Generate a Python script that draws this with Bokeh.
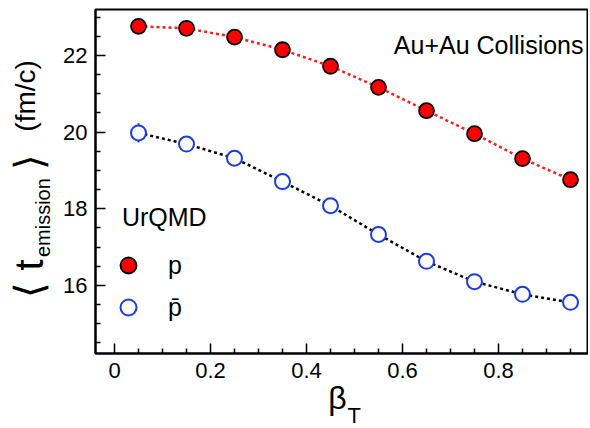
from bokeh.plotting import figure
from bokeh.models import (ColumnDataSource, Label, Legend, LegendItem, FixedTicker,
                          CustomJSTickFormatter, LinearAxis)
from bokeh.embed import file_html
from bokeh.resources import INLINE

# ---- data ----
beta_t = [0.05, 0.15, 0.25, 0.35, 0.45, 0.55, 0.65, 0.75, 0.85, 0.95]
t_proton = [22.76, 22.71, 22.48, 22.15, 21.72, 21.17, 20.56, 19.96, 19.31, 18.76]
t_antiproton = [19.98, 19.69, 19.32, 18.71, 18.08, 17.33, 16.63, 16.10, 15.77, 15.56]
err_antiproton = [0.25, 0.0, 0.0, 0.0, 0.0, 0.0, 0.0, 0.0, 0.0, 0.0]
x_major_ticks = [0, 0.2, 0.4, 0.6, 0.8]
x_minor_ticks = [0.05, 0.1, 0.15, 0.25, 0.3, 0.35, 0.45, 0.5, 0.55, 0.65, 0.7, 0.75, 0.85, 0.9, 0.95]
y_major_ticks = [16, 18, 20, 22]
y_minor_ticks = [14.5, 15, 15.5, 16.5, 17, 17.5, 18.5, 19, 19.5, 20.5, 21, 21.5, 22.5, 23]

FONT = "Liberation Sans"
NBSP = "\u00a0"

X0, X1 = -0.0396, 0.9875
Y0, Y1 = 14.226, 23.2
FL, FR, FT, FB = 95, 588, 9, 353   # frame edges in page pixels

p = figure(width=588, height=428, x_range=(X0, X1), y_range=(Y0, Y1),
           output_backend="svg", toolbar_location=None,
           min_border_left=FL, min_border_right=0, min_border_top=FT,
           min_border_bottom=428 - FB)
p.grid.visible = False
p.outline_line_color = "black"
p.outline_line_width = 2
p.background_fill_color = "white"
p.border_fill_color = "white"

for ax in (p.xaxis[0], p.yaxis[0]):
    ax.axis_line_color = "black"
    ax.axis_line_width = 2
    ax.major_tick_in = 10
    ax.major_tick_out = 0
    ax.minor_tick_in = 5
    ax.minor_tick_out = 0
    ax.major_tick_line_width = 1.5
    ax.minor_tick_line_width = 1.5
    ax.major_tick_line_color = "black"
    ax.minor_tick_line_color = "black"
    ax.major_label_text_font = FONT
    ax.major_label_text_font_size = "22px"
    ax.major_label_text_color = "black"

p.xaxis[0].ticker = FixedTicker(ticks=x_major_ticks, minor_ticks=x_minor_ticks)
p.yaxis[0].ticker = FixedTicker(ticks=y_major_ticks, minor_ticks=y_minor_ticks)
p.xaxis[0].formatter = CustomJSTickFormatter(code="return tick === 0 ? '0' : tick.toFixed(1);")
p.xaxis[0].major_label_standoff = 9
p.yaxis[0].major_label_standoff = 8


def dx(px):
    return X0 + (px - FL) * (X1 - X0) / (FR - FL)


def dy(py):
    return Y1 - (py - FT) * (Y1 - Y0) / (FB - FT)


def label_axis(side, text, size, standoff, pad_before=0, pad_after=0, font=FONT):
    """An extra axis that shows only a label (padded with no-break spaces to shift it)."""
    ax = LinearAxis(ticker=FixedTicker(ticks=[]),
                    axis_line_color=None, major_tick_out=0, minor_tick_out=0,
                    major_tick_in=0, minor_tick_in=0, major_label_standoff=0,
                    axis_label=NBSP * pad_before + text + NBSP * pad_after,
                    axis_label_text_font=font,
                    axis_label_text_font_size=size, axis_label_text_font_style="normal",
                    axis_label_text_color="black", axis_label_standoff=standoff)
    p.add_layout(ax, side)
    return ax


# x axis title: beta_T
label_axis("below", "\u03b2", "32px", -1, pad_after=1)
label_axis("above", "T", "22px", -418, pad_before=4)

# y axis title: < t_emission > (fm/c)
label_axis("left", "emission", "20px", 7, pad_after=13)
label_axis("left", "\u27e8" + NBSP + "t" + NBSP * 8 + "\u27e9", "40px", -22, pad_after=8)
label_axis("left", "(fm/c)", "28px", -37, pad_before=22)

src_p = ColumnDataSource(dict(x=beta_t, y=t_proton))
lo = [v - e for v, e in zip(t_antiproton, err_antiproton)]
hi = [v + e for v, e in zip(t_antiproton, err_antiproton)]
src_pb = ColumnDataSource(dict(x=beta_t, y=t_antiproton, lo=lo, hi=hi))

p.line("x", "y", source=src_p, line_color="#ff1a1a", line_width=2.5, line_dash="3 3")
p.line("x", "y", source=src_pb, line_color="black", line_width=2.5, line_dash="3 3")
p.segment(x0="x", y0="lo", x1="x", y1="hi", source=src_pb, line_color="#1a3ce6", line_width=2)

r_p = p.scatter("x", "y", source=src_p, size=15, fill_color="#ff0000",
                line_color="black", line_width=1.8)
r_pb = p.scatter("x", "y", source=src_pb, size=15, fill_color="white",
                 line_color="#1a3ce6", line_width=2)

legend = Legend(items=[LegendItem(label="p", renderers=[r_p]),
                       LegendItem(label="p\u0304", renderers=[r_pb])],
                location=(13, 25), title=NBSP * 2 + "UrQMD",
                title_text_font=FONT, title_text_font_size="25px",
                title_text_font_style="normal", title_text_color="black",
                label_text_font=FONT, label_text_font_size="25px", label_text_color="black",
                glyph_width=40, glyph_height=42, label_height=42, spacing=0,
                padding=0, margin=0, label_standoff=20, title_standoff=12,
                border_line_color=None, background_fill_alpha=0)
p.add_layout(legend)

p.add_layout(Label(x=dx(583), y=dy(44), text="Au+Au Collisions", text_align="right",
                   text_baseline="alphabetic",
                   text_font=FONT, text_font_size="25px", text_color="black"))

open("out.html", "w").write(file_html(p, INLINE))
